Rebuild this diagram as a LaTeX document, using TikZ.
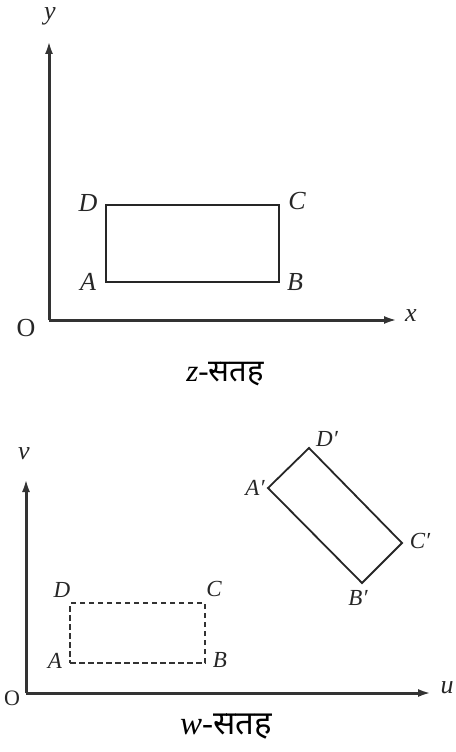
\documentclass[tikz,border=0pt]{standalone}
\usepackage{fontspec}
\setmainfont{Liberation Serif}
\newfontfamily\devfont[Script=Devanagari]{Noto Sans}
\usetikzlibrary{arrows.meta}
\begin{document}
\begin{tikzpicture}[x=1pt,y=-1pt,
  axisline/.style={line width=3pt,draw=black!80,-{Latex[length=13pt,width=8pt]}},
  rectline/.style={line width=1.8pt,draw=black!85},
  drectline/.style={line width=1.6pt,draw=black!80,dash pattern=on 5.5pt off 3.5pt},
  lab/.style={font=\fontsize{26}{28}\selectfont\itshape,inner sep=0pt,text=black!85},
  slab/.style={font=\fontsize{23}{25}\selectfont\itshape,inner sep=0pt,text=black!85},
  olab/.style={font=\fontsize{26}{28}\selectfont,inner sep=0pt,text=black!85},
  captxt/.style={font=\fontsize{33}{36}\selectfont,inner sep=0pt}]
\useasboundingbox (0,0) rectangle (455,752);
% ---- z-plane ----
\coordinate (O1) at (49,320);
\coordinate (Y1) at (49,41);
\coordinate (X1) at (397,320);
\draw[axisline] (O1) -- (Y1);
\draw[axisline] (O1) -- (X1);
\node[lab] (ly1) at (50,16) {y};
\node[lab] (lx1) at (411,316) {x};
\node[olab] (lo1) at (26,328) {O};
\coordinate (A1) at (106,282);
\coordinate (B1) at (279,282);
\coordinate (C1) at (279,205);
\coordinate (D1) at (106,205);
\draw[rectline] (A1) -- (B1) -- (C1) -- (D1) -- cycle;
\node[lab] (lA1) at (88,282) {A};
\node[lab] (lB1) at (295,282) {B};
\node[lab] (lC1) at (297,201) {C};
\node[lab] (lD1) at (88,203) {D};
\node[captxt,font=\fontsize{31}{34}\selectfont] (cz) at (225,374) {\textit{z}-{\devfont सतह}};
% ---- w-plane ----
\coordinate (O2) at (26,693);
\coordinate (V2) at (26,479);
\coordinate (U2) at (431,693);
\draw[axisline] (O2) -- (V2);
\draw[axisline] (O2) -- (U2);
\node[lab] (lv2) at (24,454) {v};
\node[lab] (lu2) at (447,688) {u};
\node[olab,font=\fontsize{22}{24}\selectfont] (lo2) at (12,698) {O};
\coordinate (A2) at (70,663);
\coordinate (B2) at (205,663);
\coordinate (C2) at (205,603);
\coordinate (D2) at (70,603);
\draw[drectline] (A2) -- (B2) -- (C2) -- (D2) -- cycle;
\node[slab] (lA2) at (55,661) {A};
\node[slab] (lB2) at (220,660) {B};
\node[slab] (lC2) at (214,589) {C};
\node[slab] (lD2) at (62,590) {D};
\coordinate (Ap) at (268,488);
\coordinate (Bp) at (362,583);
\coordinate (Cp) at (402,543);
\coordinate (Dp) at (309,448);
\draw[rectline] (Ap) -- (Bp) -- (Cp) -- (Dp) -- cycle;
\node[slab] (lAp) at (255,488) {A′};
\node[slab] (lBp) at (358,598) {B′};
\node[slab] (lCp) at (420,541) {C′};
\node[slab] (lDp) at (327,439) {D′};
\node[captxt] (cw) at (226,727) {\textit{w}-{\devfont सतह}};
\end{tikzpicture}
\end{document}
